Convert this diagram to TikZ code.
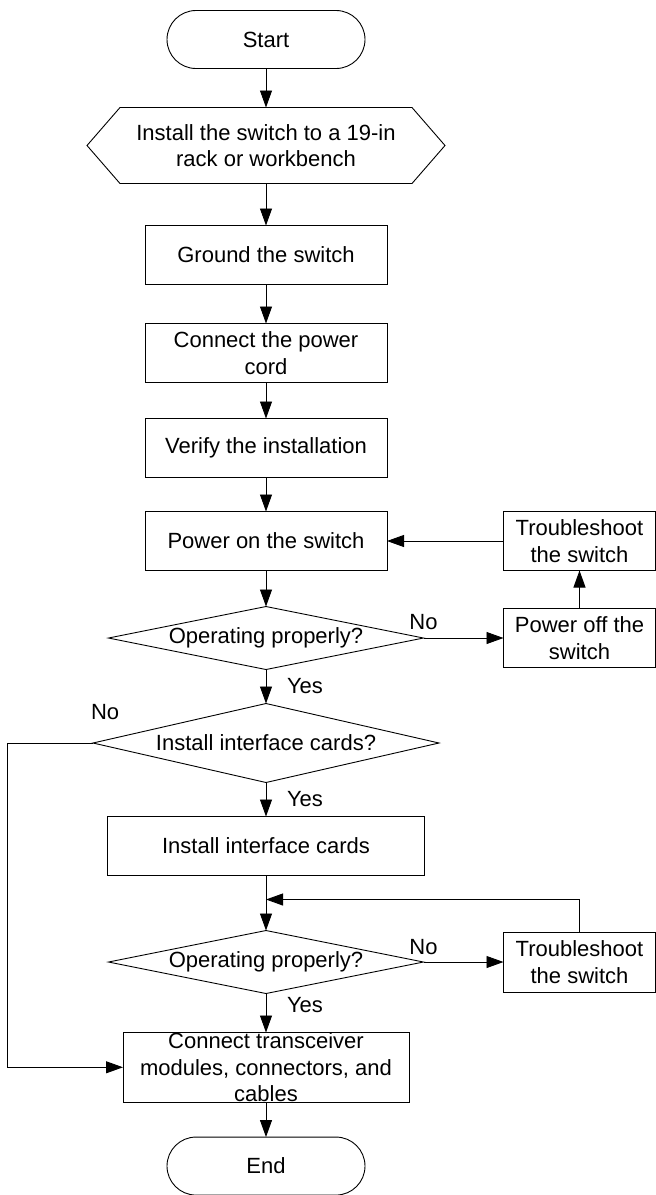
\documentclass[tikz,border=0pt]{standalone}
\usepackage{fontspec}
\setmainfont{Liberation Sans}
\usetikzlibrary{positioning, shapes.geometric, arrows.meta}

\begin{document}
\begin{tikzpicture}[
    x=1pt, y=1pt,
    line width=0.9pt,
    every node/.style={font=\fontsize{22}{26.7}\selectfont, outer sep=0pt},
    terminal/.style={rectangle, draw, rounded corners=29pt, minimum width=198pt, minimum height=58pt, align=center},
    proceso/.style={rectangle, draw, minimum width=242pt, minimum height=59pt, inner sep=2pt, align=center},
    lateral/.style={proceso, minimum width=152pt},
    decision/.style={diamond, draw, aspect=5, inner sep=0pt, minimum width=315pt, minimum height=63pt, align=center},
    hexagono/.style={rectangle, minimum width=358pt, minimum height=76pt, inner sep=0pt, align=center},
    flecha/.style={-{Triangle[length=17pt, width=12pt]}},
    etiqueta/.style={inner sep=0pt}
  ]
  \useasboundingbox (0,0) rectangle (656,-1195);

  % ---------------- Columna principal ----------------
  \node (inicio) [terminal] at (266,-39.5) {Start};
  \node (instalar) [hexagono, below=39pt of inicio] {Install the switch to a 19-in\\rack or workbench};
  \draw (instalar.west) -- ([xshift=33pt]instalar.north west) -- ([xshift=-33pt]instalar.north east)
    -- (instalar.east) -- ([xshift=-33pt]instalar.south east) -- ([xshift=33pt]instalar.south west) -- cycle;
  \node (tierra) [proceso, below=42pt of instalar] {Ground the switch};
  \node (cable) [proceso, below=39pt of tierra] {Connect the power\\cord};
  \node (verificar) [proceso, below=36pt of cable] {Verify the installation};
  \node (encender) [proceso, below=34pt of verificar] {Power on the switch};
  \node (decision1) [decision, below=36pt of encender] {Operating properly?};
  \node (decision2) [decision, minimum width=346pt, minimum height=79pt, below=34pt of decision1] {Install interface cards?};
  \node (tarjetas) [proceso, minimum width=317pt, below=34pt of decision2] {Install interface cards};
  \node (decision3) [decision, below=55pt of tarjetas] {Operating properly?};
  \node (conectar) [proceso, minimum width=286pt, minimum height=69pt, inner ysep=0pt, below=39pt of decision3] {Connect transceiver\\modules, connectors, and\\cables};
  \node (fin) [terminal, below=35pt of conectar] {End};

  % ---------------- Ramas laterales ----------------
  \node (apagar) [lateral, right=80pt of decision1] {Power off the\\switch};
  \node (resolver1) [lateral, above=38pt of apagar] {Troubleshoot\\the switch};
  \node (resolver2) [lateral, minimum height=60pt, right=80pt of decision3] {Troubleshoot\\the switch};

  \coordinate (izq) at ([xshift=-86pt]decision2.west);
  \coordinate (union) at ([yshift=-24pt]tarjetas.south);

  % ---------------- Flechas ----------------
  \draw[flecha] (inicio) -- (instalar);
  \draw[flecha] (instalar) -- (tierra);
  \draw[flecha] (tierra) -- (cable);
  \draw[flecha] (cable) -- (verificar);
  \draw[flecha] (verificar) -- (encender);
  \draw[flecha] (encender) -- (decision1);
  \draw[flecha] (decision1.south) -- node[etiqueta, right, xshift=21pt] {Yes} (decision2.north);
  \draw[flecha] (decision2.south) -- node[etiqueta, right, xshift=21pt] {Yes} (tarjetas.north);
  \draw[flecha] (tarjetas.south) -- (decision3.north);
  \draw[flecha] (decision3.south) -- node[etiqueta, right, xshift=21pt, pos=0.3] {Yes} (conectar.north);
  \draw[flecha] (conectar) -- (fin);

  \draw[flecha] (decision1.east) -- node[etiqueta, pos=0, above, yshift=8pt] {No} (apagar.west);
  \draw[flecha] (apagar) -- (resolver1);
  \draw[flecha] (resolver1.west) -- (encender.east);

  \draw[flecha] (decision2.west) -- node[etiqueta, pos=0, anchor=south west, xshift=-2pt, yshift=23pt] {No} (izq) |- (conectar.west);

  \draw[flecha] (decision3.east) -- node[etiqueta, pos=0, above, yshift=7pt] {No} (resolver2.west);
  \draw[flecha] (resolver2.north) |- (union);

\end{tikzpicture}
\end{document}
